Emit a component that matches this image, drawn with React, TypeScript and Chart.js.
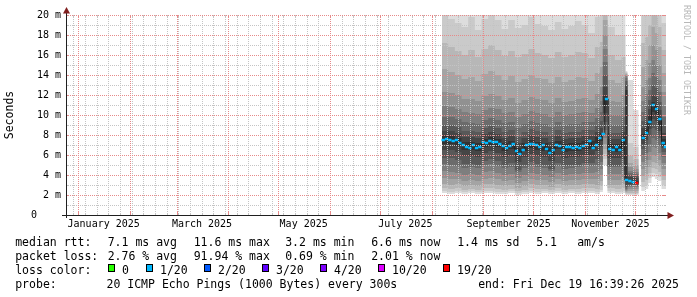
import React, { useEffect, useRef } from 'react';
import { Chart, registerables } from 'chart.js';

Chart.register(...registerables);

// ---------- time range (days counted from 1 Jan 2025 00:00) ----------
const YEAR = 2025;
const END_DAY = 352 + (16 * 3600 + 39 * 60 + 26) / 86400; // Fri Dec 19 16:39:26 2025
const RANGE_DAYS = 360;
const START_DAY = END_DAY - RANGE_DAYS;

// ---------- axis labels ----------
const xLabelMonths = [0, 2, 4, 6, 8, 10];
const xLabels = ['January 2025', 'March 2025', 'May 2025', 'July 2025', 'September 2025', 'November 2025'];
const yMajorValues = [0, 2, 4, 6, 8, 10, 12, 14, 16, 18, 20];
const yTickLabels = ['0', '2 m', '4 m', '6 m', '8 m', '10 m', '12 m', '14 m', '16 m', '18 m', '20 m'];
const yMinorValues = [1, 3, 5, 7, 9, 11, 13, 15, 17, 19];

// ---------- smoke: start day of each consolidated column ----------
const smokeDays = [218.3, 222, 226, 230, 234, 238, 242, 246, 250, 254, 258, 262, 266, 270, 274, 278, 282, 286, 290, 294, 298, 302, 306, 310, 313, 314.8, 317.6, 322, 326, 328.3, 329.5, 333, 336.3, 337.8, 340, 342, 344, 346, 348, 350];

// sorted ping rtt (ms) per column, ping01 = fastest ... ping20 = slowest
const ping01 = [2.2, 2.1, 2.2, 2.1, 2.2, 2.1, 2.2, 2.2, 2.1, 2.1, 2.2, 2.0, 2.1, 2.2, 2.1, 2.2, 2.1, 2.2, 2.1, 2.2, 2.1, 2.2, 2.2, 2.1, 2.3, 5.0, 2.2, 2.1, 2.2, 2.0, 2.0, 2.0, null, 2.4, 2.6, 3.2, 3.8, 3.6, 3.4, 2.6];
const ping02 = [2.4, 2.3, 2.4, 2.3, 2.4, 2.3, 2.4, 2.4, 2.3, 2.3, 2.4, 2.2, 2.3, 2.4, 2.3, 2.4, 2.3, 2.4, 2.3, 2.4, 2.3, 2.4, 2.4, 2.3, 2.5, 5.6, 2.4, 2.3, 2.4, 2.1, 2.1, 2.1, null, 2.8, 3.0, 3.7, 4.2, 4.1, 3.8, 3.0];
const ping03 = [2.7, 2.6, 2.7, 2.5, 2.6, 2.5, 2.7, 2.7, 2.6, 2.5, 2.6, 2.4, 2.5, 2.7, 2.6, 2.6, 2.5, 2.7, 2.5, 2.6, 2.6, 2.7, 2.7, 2.6, 2.9, 6.1, 2.7, 2.6, 2.7, 2.2, 2.2, 2.2, null, 3.3, 3.5, 4.2, 4.7, 4.6, 4.3, 3.5];
const ping04 = [3.1, 3.0, 3.1, 2.9, 3.0, 2.9, 3.1, 3.1, 3.0, 2.9, 3.0, 2.7, 2.9, 3.1, 3.0, 3.0, 2.8, 3.1, 2.9, 3.0, 3.0, 3.1, 3.1, 3.0, 3.4, 6.6, 3.0, 3.0, 3.1, 2.3, 2.4, 2.4, null, 3.9, 4.1, 4.8, 5.3, 5.2, 4.9, 4.0];
const ping05 = [3.7, 3.6, 3.6, 3.4, 3.5, 3.4, 3.6, 3.7, 3.6, 3.4, 3.5, 3.2, 3.4, 3.6, 3.5, 3.5, 3.3, 3.6, 3.4, 3.5, 3.5, 3.6, 3.6, 3.6, 4.0, 7.1, 3.5, 3.5, 3.7, 2.4, 2.6, 2.6, null, 4.6, 4.8, 5.5, 6.0, 5.9, 5.5, 4.6];
const ping06 = [4.4, 4.3, 4.2, 4.0, 4.1, 4.0, 4.3, 4.4, 4.2, 4.0, 4.1, 3.7, 4.0, 4.2, 4.1, 4.0, 3.8, 4.2, 4.0, 4.1, 4.1, 4.2, 4.2, 4.3, 4.6, 7.7, 4.1, 4.1, 4.4, 2.5, 2.8, 2.8, null, 5.3, 5.5, 6.3, 6.8, 6.7, 6.2, 5.2];
const ping07 = [5.1, 5.0, 4.9, 4.7, 4.8, 4.7, 5.0, 5.1, 4.9, 4.7, 4.8, 4.3, 4.7, 4.9, 4.8, 4.7, 4.4, 4.9, 4.6, 4.7, 4.8, 4.9, 4.9, 5.0, 5.3, 8.5, 4.8, 4.8, 5.1, 2.6, 2.9, 2.9, null, 6.0, 6.2, 7.1, 7.7, 7.5, 6.9, 5.8];
const ping08 = [5.7, 5.7, 5.5, 5.1, 5.1, 5.0, 5.4, 5.6, 5.4, 5.0, 5.2, 4.5, 5.0, 5.3, 5.1, 5.0, 4.6, 5.2, 4.9, 5.0, 5.0, 5.2, 5.2, 5.6, 6.0, 9.3, 4.9, 4.9, 5.6, 2.8, 3.0, 3.0, null, 6.6, 6.9, 7.9, 8.7, 8.5, 7.7, 6.3];
const ping09 = [6.5, 6.5, 6.3, 5.9, 5.9, 5.8, 6.2, 6.4, 6.2, 5.8, 6.0, 5.3, 5.8, 6.1, 5.9, 5.8, 5.4, 6.0, 5.7, 5.8, 5.8, 6.0, 6.0, 6.4, 6.8, 10.2, 5.7, 5.7, 6.4, 3.0, 3.1, 3.1, null, 7.1, 7.5, 8.6, 9.6, 9.4, 8.4, 6.7];
const ping10 = [7.1, 7.1, 6.9, 6.5, 6.5, 6.4, 6.8, 7.0, 6.8, 6.4, 6.6, 5.9, 6.4, 6.7, 6.5, 6.4, 6.0, 6.6, 6.3, 6.4, 6.4, 6.6, 6.6, 7.0, 7.4, 11.0, 6.3, 6.3, 7.0, 3.3, 3.3, 3.2, null, 7.5, 8.0, 9.1, 10.3, 10.1, 8.9, 6.9];
const ping11 = [7.9, 7.9, 7.7, 7.3, 7.3, 7.2, 7.6, 7.8, 7.6, 7.2, 7.4, 6.7, 7.2, 7.5, 7.3, 7.2, 6.8, 7.4, 7.1, 7.2, 7.2, 7.4, 7.4, 7.8, 8.2, 11.9, 7.1, 7.1, 7.8, 12.5, 3.5, 3.4, null, 8.1, 8.6, 9.9, 11.3, 11.0, 9.8, 7.6];
const ping12 = [8.4, 8.4, 8.2, 7.8, 7.8, 7.7, 8.1, 8.3, 8.1, 7.7, 7.9, 7.2, 7.7, 8.0, 7.8, 7.7, 7.3, 7.9, 7.6, 7.7, 7.7, 7.9, 7.9, 8.3, 8.7, 12.8, 7.6, 7.6, 8.3, 13.0, 3.8, 3.7, null, 8.7, 9.2, 10.6, 12.0, 11.8, 10.5, 8.2];
const ping13 = [9.0, 9.0, 8.8, 8.4, 8.4, 8.3, 8.7, 8.9, 8.7, 8.3, 8.5, 7.8, 8.3, 8.6, 8.4, 8.3, 7.9, 8.5, 8.2, 8.3, 8.3, 8.5, 8.5, 8.9, 9.4, 14.0, 8.2, 8.2, 8.9, 13.4, 4.0, 3.9, null, 9.4, 10.0, 11.5, 13.0, 12.7, 11.3, 8.9];
const ping14 = [9.8, 9.8, 9.6, 9.3, 9.2, 9.1, 9.5, 9.7, 9.5, 9.2, 9.3, 8.7, 9.1, 9.4, 9.2, 9.1, 8.8, 9.3, 9.0, 9.1, 9.1, 9.3, 9.3, 9.7, 10.3, 15.3, 9.0, 9.0, 9.8, 13.7, 4.2, 4.1, null, 10.3, 11.0, 12.5, 14.2, 13.8, 12.3, 9.8];
const ping15 = [10.9, 10.8, 10.6, 10.3, 10.2, 10.1, 10.5, 10.7, 10.6, 10.2, 10.3, 9.8, 10.1, 10.4, 10.2, 10.1, 9.8, 10.3, 10.0, 10.1, 10.2, 10.3, 10.2, 10.7, 11.4, 16.6, 10.0, 10.0, 10.8, 13.9, 4.4, 4.3, null, 11.4, 12.1, 13.7, 15.5, 15.0, 13.5, 10.9];
const ping16 = [12.3, 12.2, 12.0, 11.6, 11.6, 11.4, 11.9, 12.1, 11.9, 11.5, 11.7, 11.2, 11.5, 11.8, 11.6, 11.5, 11.2, 11.7, 11.3, 11.4, 11.6, 11.7, 11.5, 12.1, 12.8, 18.0, 11.4, 11.3, 12.0, 14.0, 4.8, 4.6, null, 12.8, 13.5, 15.2, 17.0, 16.5, 15.0, 12.3];
const ping17 = [14.6, 14.3, 14.0, 13.6, 13.8, 13.4, 14.1, 14.4, 14.0, 13.5, 13.9, 13.3, 13.6, 14.0, 13.7, 13.6, 13.2, 13.8, 13.3, 13.5, 13.8, 13.7, 13.4, 14.2, 14.8, 19.5, 13.5, 13.2, 13.8, 14.1, 5.2, 5.0, null, 14.8, 15.5, 17.0, 18.8, 18.2, 16.8, 14.2];
const ping18 = [17.2, 16.8, 16.4, 16.0, 16.5, 15.8, 16.6, 17.0, 16.5, 15.9, 16.4, 15.8, 16.1, 16.6, 16.2, 16.0, 15.7, 16.3, 15.8, 16.0, 16.3, 16.2, 15.7, 16.8, 17.3, 21.0, 16.0, 15.5, 15.8, 14.2, 5.9, 5.6, null, 17.2, 17.8, 19.0, 20.5, 20.0, 18.8, 16.5];
const ping19 = [20.3, 19.6, 19.2, 18.8, 19.8, 18.5, 19.6, 20.4, 19.5, 18.6, 19.5, 18.7, 19.0, 19.8, 19.1, 18.9, 18.5, 19.3, 18.6, 18.9, 19.4, 19.0, 18.2, 19.8, 20.2, 22.5, 18.8, 18.0, 18.0, 14.3, 7.2, 6.8, null, 20.0, 20.5, 21.5, 22.5, 22.0, 21.0, 19.2];
const ping20 = [24, 23, 23, 22.5, 24, 22, 23.5, 24, 23, 22, 23.5, 22, 23, 24, 23, 22.5, 22, 23, 22.5, 22.5, 23, 23, 21.5, 23.5, 24, 25, 22.5, 21.5, 21, 14.4, 13.5, 10.5, null, 23.5, 24, 24.5, 25, 25, 24, 22.5];

// ---------- median rtt (ms) and lost pings (of 20) ----------
const medianDays = [219, 221, 223, 225, 227, 229, 231, 233, 235, 237, 239, 241, 243, 245, 247, 249, 251, 253, 255, 257, 259, 261, 263, 265, 267, 269, 271, 273, 275, 277, 279, 281, 283, 285, 287, 289, 291, 293, 295, 297, 299, 301, 303, 305, 307, 309, 311, 313, 315, 317, 319, 321, 323, 325, 327, 329, 331, 333, 335, 337, 339, 341, 343, 345, 347, 349, 351, 352.3];
const medianRtt = [7.5, 7.6, 7.5, 7.4, 7.5, 7.2, 7.0, 6.8, 6.7, 7.0, 6.7, 6.8, 7.3, 7.2, 7.4, 7.3, 7.3, 7.1, 6.9, 6.7, 6.9, 7.1, 6.4, 6.1, 6.5, 7.0, 7.1, 7.1, 7.0, 6.8, 7.0, 6.6, 6.2, 6.5, 7.0, 6.9, 6.5, 6.8, 6.8, 6.7, 6.8, 6.7, 6.9, 7.0, 7.4, 6.7, 7.0, 7.7, 8.1, 11.6, 6.6, 6.5, 6.8, 6.5, 7.5, 3.5, 3.4, 3.3, 3.2, null, 7.7, 8.2, 9.3, 11.0, 10.6, 9.6, 7.2, 6.8];
const medianLoss = [0.6, 0.5, 0.7, 0.4, 0.6, 0.5, 0.8, 0.6, 0.5, 0.7, 0.6, 0.4, 0.5, 0.6, 0.7, 0.5, 0.6, 0.4, 0.5, 0.6, 0.8, 0.5, 0.6, 0.7, 0.5, 0.6, 0.4, 0.5, 0.7, 0.6, 0.5, 0.6, 0.5, 0.7, 0.6, 0.4, 0.5, 0.6, 0.5, 0.7, 0.6, 0.5, 0.6, 0.8, 0.5, 0.6, 0.7, 0.9, 0.8, 0.6, 0.5, 0.6, 0.7, 0.6, 0.8, 0.7, 0.6, 0.7, 18.4, null, 0.8, 0.7, 0.6, 0.9, 0.8, 0.7, 0.6, 0.5];

// ---------- legend texts ----------
const medianRttStats = ['7.1 ms avg', '11.6 ms max', '3.2 ms min', '6.6 ms now', '1.4 ms sd', '5.1', 'am/s'];
const packetLossStats = ['2.76 % avg', '91.94 % max', '0.69 % min', '2.01 % now'];
const lossColorLabels = ['0', '1/20', '2/20', '3/20', '4/20', '10/20', '19/20'];
const lossThresholds = [0, 1, 2, 3, 4, 10, 19];
const lossColors = ['#26ff00', '#00b8ff', '#0059ff', '#5e00ff', '#7e00ff', '#dd00ff', '#ff0000'];
const probeText = '20 ICMP Echo Pings (1000 Bytes) every 300s';
const endText = 'end: Fri Dec 19 16:39:26 2025';
const watermark = 'RRDTOOL / TOBI OETIKER';

// ---------- styles ----------
const MONO = '"DejaVu Sans Mono", monospace';
const GRID_COLOR = 'rgb(196,196,196)';
const MGRID_COLOR = 'rgb(230,138,138)';
const AXIS_COLOR = '#1f1f1f';
const ARROW_COLOR = '#801f1f';
const bandGreys = [221, 202, 183, 164, 145, 126, 107, 88, 69, 50];

const dayOf = (m: number, d: number) => (Date.UTC(YEAR, m, d) - Date.UTC(YEAR, 0, 1)) / 86400000;
const monthStarts = Array.from({ length: 12 }, (_, m) => dayOf(m, 1));
const labelDays = xLabelMonths.map((m) => dayOf(m, 1) + 15.3);

function sundays(): number[] {
  const out: number[] = [];
  let s = dayOf(0, 5); // first Sunday of 2025
  while (s - 7 >= START_DAY) s -= 7;
  for (; s <= END_DAY; s += 7) out.push(s);
  return out;
}

function lossColor(l: number | null) {
  if (l === null) return 'rgba(0,0,0,0)';
  for (let i = 0; i < lossThresholds.length; i++) if (l <= lossThresholds[i]) return lossColors[i];
  return lossColors[lossColors.length - 1];
}

function binPoints(values: (number | null)[]) {
  const pts: { x: number; y: number | null }[] = [];
  values.forEach((v, i) => {
    const x0 = smokeDays[i];
    const x1 = i + 1 < smokeDays.length ? smokeDays[i + 1] : END_DAY;
    if (v === null) {
      pts.push({ x: x0, y: null });
      return;
    }
    pts.push({ x: x0, y: v }, { x: x1, y: v });
  });
  return pts;
}

// rrdtool-style dotted grid, drawn over the smoke through the chart's own scales
const gridPlugin = {
  id: 'rrdGrid',
  afterDatasetsDraw(chart: any) {
    const { ctx, chartArea: a, scales } = chart;
    const xs = scales.x;
    const ys = scales.y;
    const weeks = sundays().filter((d) => !monthStarts.includes(d));
    const months = monthStarts.filter((d) => d >= START_DAY && d <= END_DAY);
    const top = Math.round(a.top);
    const bottom = Math.round(a.bottom);
    const left = Math.round(a.left);
    const right = Math.round(a.right);
    const draw = (color: string, xv: number[], yv: number[], tick: number) => {
      const px = xv.map((d) => Math.round(xs.getPixelForValue(d)) + 0.5);
      const py = yv.map((v) => Math.round(ys.getPixelForValue(v)) + 0.5);
      ctx.strokeStyle = color;
      ctx.lineWidth = 1;
      ctx.setLineDash([1, 1]);
      ctx.beginPath();
      px.forEach((x) => { ctx.moveTo(x, top); ctx.lineTo(x, bottom); });
      py.forEach((y) => { ctx.moveTo(left, y); ctx.lineTo(right, y); });
      ctx.stroke();
      // short solid ticks at both ends of each grid line
      ctx.setLineDash([]);
      ctx.beginPath();
      px.forEach((x) => {
        ctx.moveTo(x, bottom); ctx.lineTo(x, bottom - tick);
        ctx.moveTo(x, top); ctx.lineTo(x, top + tick);
      });
      py.forEach((y) => {
        ctx.moveTo(left, y); ctx.lineTo(left + tick, y);
        ctx.moveTo(right, y); ctx.lineTo(right - tick, y);
      });
      ctx.stroke();
    };
    ctx.save();
    draw(GRID_COLOR, weeks, yMinorValues, 2);
    draw(MGRID_COLOR, months, yMajorValues, 3);
    ctx.restore();
  },
};

const chromePlugin = {
  id: 'rrdChrome',
  afterDraw(chart: any) {
    const { ctx, chartArea: a } = chart;
    ctx.save();
    ctx.setLineDash([]);
    const yb = Math.round(a.bottom) + 0.5;
    const xl = Math.round(a.left) + 0.5;
    ctx.strokeStyle = AXIS_COLOR;
    ctx.lineWidth = 1;
    ctx.beginPath();
    ctx.moveTo(a.left - 4, yb);
    ctx.lineTo(a.right + 2, yb);
    ctx.moveTo(xl, a.bottom + 3);
    ctx.lineTo(xl, a.top - 2);
    ctx.stroke();
    ctx.fillStyle = ARROW_COLOR;
    ctx.beginPath();
    ctx.moveTo(a.right + 1.5, yb - 3.5);
    ctx.lineTo(a.right + 1.5, yb + 3.5);
    ctx.lineTo(a.right + 8, yb);
    ctx.closePath();
    ctx.fill();
    ctx.beginPath();
    ctx.moveTo(xl - 3.5, a.top - 1.5);
    ctx.lineTo(xl + 3.5, a.top - 1.5);
    ctx.lineTo(xl, a.top - 8);
    ctx.closePath();
    ctx.fill();

    // legend
    ctx.font = `11.5px ${MONO}`;
    ctx.fillStyle = '#000';
    ctx.textAlign = 'left';
    ctx.textBaseline = 'alphabetic';
    const statCols = [107.7, 193.7, 285.2, 371.2, 457.2, 536.2, 577.2];
    const rows = [245.5, 259.5, 273.5, 287.5];
    ctx.fillText('median rtt:', 15.2, rows[0]);
    medianRttStats.forEach((t, i) => ctx.fillText(t, statCols[i], rows[0]));
    ctx.fillText('packet loss:', 15.2, rows[1]);
    packetLossStats.forEach((t, i) => ctx.fillText(t, statCols[i], rows[1]));
    ctx.fillText('loss color:', 15.2, rows[2]);
    const boxCols = [108, 146, 204, 262, 320, 378, 443];
    lossColorLabels.forEach((t, i) => {
      const bx = boxCols[i];
      ctx.fillStyle = lossColors[i];
      ctx.fillRect(bx, 264, 7, 8);
      ctx.strokeStyle = '#000';
      ctx.strokeRect(bx + 0.5, 264.5, 6, 7);
      ctx.fillStyle = '#000';
      ctx.fillText(t, bx + 14, rows[2]);
    });
    ctx.fillText('probe:', 15.2, rows[3]);
    ctx.fillText(probeText, 106.5, rows[3]);
    ctx.fillText(endText, 478.2, rows[3]);

    // watermark
    ctx.translate(686.5, 5);
    ctx.rotate(Math.PI / 2);
    ctx.font = `8.3px ${MONO}`;
    ctx.fillStyle = '#b8b8b8';
    ctx.textBaseline = 'middle';
    ctx.fillText(watermark, 0, 0);
    ctx.restore();
  },
};

export default function App() {
  const ref = useRef<HTMLCanvasElement | null>(null);

  useEffect(() => {
    if (!ref.current) return;
    const pings = [ping01, ping02, ping03, ping04, ping05, ping06, ping07, ping08, ping09, ping10, ping11, ping12, ping13, ping14, ping15, ping16, ping17, ping18, ping19, ping20];
    const datasets: any[] = [];
    for (let k = 0; k < 10; k++) {
      const g = bandGreys[k];
      datasets.push({
        data: binPoints(pings[k]),
        borderWidth: 0,
        borderColor: 'rgba(0,0,0,0)',
        pointRadius: 0,
        pointHitRadius: 0,
        fill: false,
        order: 100,
      });
      datasets.push({
        data: binPoints(pings[19 - k]),
        borderWidth: 0,
        borderColor: 'rgba(0,0,0,0)',
        backgroundColor: `rgb(${g},${g},${g})`,
        pointRadius: 0,
        pointHitRadius: 0,
        fill: { target: 2 * k },
        order: 50 - k,
      });
    }
    datasets.push({
      data: medianDays.map((d, i) => ({ x: d, y: medianRtt[i] })),
      borderColor: '#202020',
      borderWidth: 1,
      stepped: 'middle',
      fill: false,
      pointStyle: 'line',
      pointRadius: 1.7,
      pointHitRadius: 0,
      pointBorderWidth: 2.5,
      pointBorderColor: medianLoss.map(lossColor),
      pointBackgroundColor: medianLoss.map(lossColor),
      order: 0,
    });

    const chart = new Chart(ref.current, {
      type: 'line',
      data: { datasets },
      options: {
        animation: false,
        responsive: false,
        devicePixelRatio: 1,
        events: [],
        layout: { padding: { left: 0, right: 31, top: 15, bottom: 0 } },
        plugins: { legend: { display: false }, tooltip: { enabled: false } },
        scales: {
          x: {
            type: 'linear',
            position: 'bottom',
            min: START_DAY,
            max: END_DAY,
            afterFit: (s: any) => { s.height = 82; },
            afterBuildTicks: (s: any) => { s.ticks = labelDays.map((v) => ({ value: v })); },
            ticks: {
              autoSkip: false,
              maxRotation: 0,
              minRotation: 0,
              padding: 3,
              color: '#000',
              font: { family: MONO, size: 10 },
              callback: (_v: any, i: number) => xLabels[i],
            },
            grid: { display: false, drawTicks: false },
            border: { display: false },
          },
          y: {
            type: 'linear',
            position: 'left',
            min: 0,
            max: 20,
            afterFit: (s: any) => { s.width = 66; },
            afterBuildTicks: (s: any) => { s.ticks = yMajorValues.map((v) => ({ value: v })); },
            ticks: {
              autoSkip: false,
              padding: 5,
              color: '#000',
              font: { family: MONO, size: 10 },
              callback: (_v: any, i: number) => {
                const t = yTickLabels[i];
                return t.includes(' ') ? t : t + '    ';
              },
            },
            grid: { display: false, drawTicks: false },
            border: { display: false },
            title: {
              display: true,
              text: 'Seconds',
              color: '#000',
              font: { family: MONO, size: 11.5 },
              padding: { top: 3, bottom: 0 },
            },
          },
        },
      } as any,
      plugins: [gridPlugin, chromePlugin],
    });
    return () => chart.destroy();
  }, []);

  return (
    <div style={{ position: 'absolute', left: 0, top: 0, width: 697, height: 297, background: '#fff' }}>
      <canvas ref={ref} width={697} height={297} style={{ display: 'block' }} />
    </div>
  );
}
